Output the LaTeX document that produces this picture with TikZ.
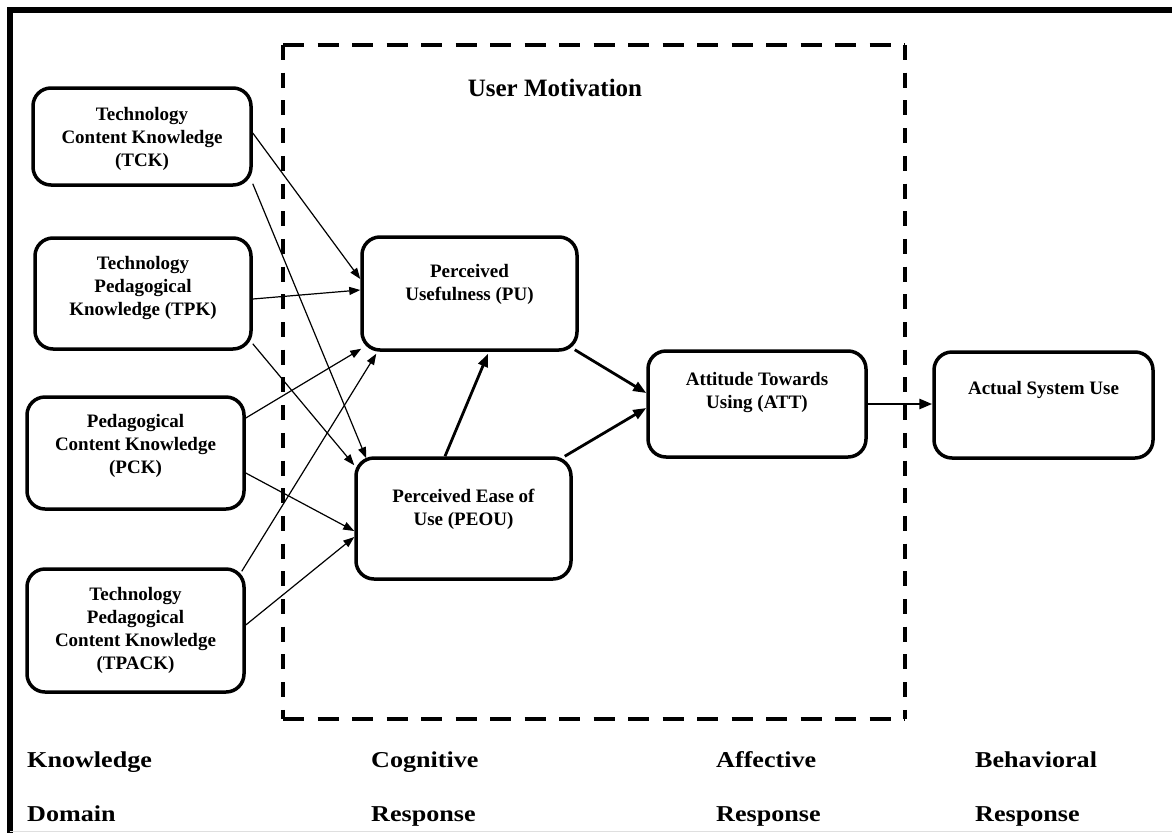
\documentclass[tikz,border=0pt]{standalone}
\usepackage{fontspec}
\setmainfont{Liberation Serif}
\newfontfamily\widefont[FakeStretch=1.15]{Liberation Serif}
\usetikzlibrary{arrows.meta,calc}

\begin{document}
\begin{tikzpicture}[x=1pt,y=-1pt,
  box/.style={draw, line width=3.5pt, rounded corners=18pt, inner sep=0pt},
  txt/.style={align=center, inner sep=0pt, anchor=north,
    font=\bfseries\fontsize{19}{23.2}\selectfont},
  axislabel/.style={anchor=base west, inner sep=0pt,
    font=\widefont\bfseries\fontsize{22.7}{27}\selectfont},
  thinarrow/.style={line width=1.2pt, -{Triangle[length=11pt,width=8pt]}},
  strongarrow/.style={line width=2.8pt, -{Triangle[length=13pt,width=10pt]}},
  hdash/.style={line width=4.5pt, dash pattern=on 21pt off 13.5pt},
  vdash/.style={line width=4.5pt, dash pattern=on 15pt off 12.7pt},
]
\fill[white] (0,0) rectangle (1172,833);
\useasboundingbox (0,0) rectangle (1172,833);

% outer frame (top and left edges)
\draw[line width=6pt, miter limit=10] (1172,9.5) -- (9.5,9.5) -- (9.5,833);
\draw[gray!25, line width=1.5pt] (9.5,831.5) -- (1172,831.5);

% user motivation region
\draw[hdash] (283,45) -- (905,45);
\draw[hdash] (283,719) -- (905,719);
\draw[vdash] (283,45) -- (283,719);
\draw[vdash] (905,45) -- (905,719);
\node[anchor=base, inner sep=0pt, font=\bfseries\fontsize{25}{30}\selectfont]
  (um) at (555,96) {User Motivation};

% knowledge domain boxes
\node[box, minimum width=218pt, minimum height=97pt]  (tck)   at (142,136.5) {};
\node[box, minimum width=216pt, minimum height=111pt] (tpk)   at (143,293.5) {};
\node[box, minimum width=217pt, minimum height=112pt] (pck)   at (135.5,453) {};
\node[box, minimum width=217pt, minimum height=123pt] (tpack) at (135.5,630.5) {};

\node[txt] (tcktxt)   at (142,107)   {Technology\\Content Knowledge\\(TCK)};
\node[txt] (tpktxt)   at (143,256)   {Technology\\Pedagogical\\Knowledge (TPK)};
\node[txt] (pcktxt)   at (135.5,414) {Pedagogical\\Content Knowledge\\(PCK)};
\node[txt] (tpacktxt) at (135.5,587) {Technology\\Pedagogical\\Content Knowledge\\(TPACK)};

% response boxes
\node[box, minimum width=215pt, minimum height=113pt] (pu)   at (469.5,293.5) {};
\node[box, minimum width=215pt, minimum height=121pt] (peou) at (463.5,518.5) {};
\node[box, minimum width=218pt, minimum height=106pt] (att)  at (757,404) {};
\node[box, minimum width=219pt, minimum height=106pt] (asu)  at (1043.5,405) {};

\node[txt] (putxt)   at (469.5,264) {Perceived\\Usefulness (PU)};
\node[txt] (peoutxt) at (463.5,489) {Perceived Ease of\\Use (PEOU)};
\node[txt] (atttxt)  at (757,372)   {Attitude Towards\\Using (ATT)};
\node[txt] (asutxt)  at (1043.5,381) {Actual System Use};

% knowledge -> perceptions
\draw[thinarrow] ([yshift=3.5pt]tck.east) -- ([yshift=14.5pt]pu.west);
\draw[thinarrow] ([yshift=3pt]tck.south east) -- ([xshift=12pt,yshift=-2pt]peou.north west);
\draw[thinarrow] ([yshift=-5.5pt]tpk.east) -- ([yshift=3.5pt]pu.west);
\draw[thinarrow] ([yshift=7pt]tpk.south east) -- ([yshift=-9pt]peou.north west);
\draw[thinarrow] ([yshift=35pt]pck.east) -- ([xshift=1pt,yshift=3pt]pu.south west);
\draw[thinarrow] ([yshift=-20pt]pck.east) -- ([yshift=-12.5pt]peou.west);
\draw[thinarrow] ([xshift=-4pt,yshift=-4pt]tpack.north east) -- ([xshift=16pt,yshift=-2pt]pu.south west);
\draw[thinarrow] ([yshift=5.5pt]tpack.east) -- ([yshift=-18.5pt]peou.west);

% perceptions -> attitude -> use
\draw[strongarrow] ([xshift=-18.5pt]peou.north) -- ([xshift=18.5pt,yshift=-2pt]pu.south);
\draw[strongarrow] ([xshift=-4pt,yshift=2pt]pu.south east) -- ([yshift=11pt]att.west);
\draw[strongarrow] ([xshift=-8pt]peou.north east) -- ([yshift=-4pt]att.west);
\draw[strongarrow] (att.east) -- (asu.west |- att.east);

% response labels
\node[axislabel] (kd1) at (27,767)  {Knowledge};
\node[axislabel] (kd2) at (27,821)  {Domain};
\node[axislabel] (cr1) at (371,767) {Cognitive};
\node[axislabel] (cr2) at (371,821) {Response};
\node[axislabel] (ar1) at (716,767) {Affective};
\node[axislabel] (ar2) at (716,821) {Response};
\node[axislabel] (br1) at (975,767) {Behavioral};
\node[axislabel] (br2) at (975,821) {Response};
\end{tikzpicture}
\end{document}
